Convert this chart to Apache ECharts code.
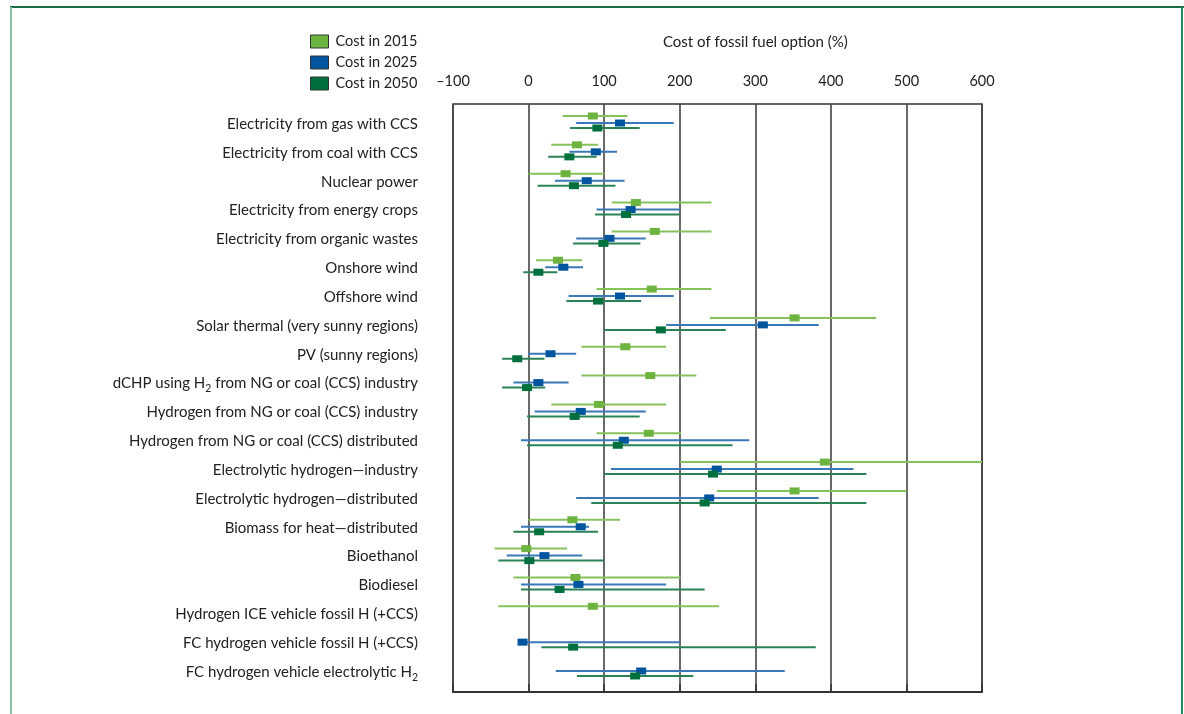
<!DOCTYPE html>
<html>
<head>
<meta charset="utf-8">
<script src="https://cdn.jsdelivr.net/npm/echarts@6/dist/echarts.min.js"></script>
<style>
html,body{margin:0;padding:0;background:#fff;}
#chart{width:1184px;height:714px;}
</style>
</head>
<body>
<div id="chart"></div>
<script>
const categories = [
  "Electricity from gas with CCS",
  "Electricity from coal with CCS",
  "Nuclear power",
  "Electricity from energy crops",
  "Electricity from organic wastes",
  "Onshore wind",
  "Offshore wind",
  "Solar thermal (very sunny regions)",
  "PV (sunny regions)",
  "dCHP using H₂ from NG or coal (CCS) industry",
  "Hydrogen from NG or coal (CCS) industry",
  "Hydrogen from NG or coal (CCS) distributed",
  "Electrolytic hydrogen—industry",
  "Electrolytic hydrogen—distributed",
  "Biomass for heat—distributed",
  "Bioethanol",
  "Biodiesel",
  "Hydrogen ICE vehicle fossil H (+CCS)",
  "FC hydrogen vehicle fossil H (+CCS)",
  "FC hydrogen vehicle electrolytic H₂"
];
const xTicks = [-100, 0, 100, 200, 300, 400, 500, 600];
const seriesNames = ["Cost in 2015", "Cost in 2025", "Cost in 2050"];

// [low, central, high] per category (% of fossil fuel option cost)
const cost2015 = [
  [45, 85, 131], [30, 64, 92], [0, 49, 100], [110, 142, 242], [110, 167, 242],
  [10, 39, 71], [90, 163, 242], [240, 352, 460], [70, 128, 182], [70, 161, 222],
  [30, 93, 182], [90, 159, 202], [200, 392, 600], [249, 352, 500], [0, 58, 121],
  [-45, -3, 51], [-20, 62, 201], [-40, 85, 252], null, null
];
const cost2025 = [
  [63, 121, 192], [54, 89, 117], [35, 77, 127], [90, 135, 200], [63, 107, 155],
  [22, 46, 72], [53, 121, 192], [182, 310, 384], [0, 29, 63], [-20, 13, 53],
  [8, 69, 155], [-10, 126, 292], [109, 249, 430], [63, 239, 384], [-10, 69, 80],
  [-29, 21, 71], [-10, 66, 182], null, [-8, -8, 200], [36, 149, 339]
];
const cost2050 = [
  [55, 91, 147], [26, 54, 90], [12, 60, 115], [88, 129, 200], [59, 99, 148],
  [-7, 13, 38], [50, 92, 149], [101, 175, 261], [-35, -15, 21], [-35, -2, 22],
  [-2, 61, 147], [-2, 118, 270], [101, 244, 447], [83, 233, 447], [-20, 14, 92],
  [-40, 1, 100], [-10, 41, 233], null, [17, 59, 380], [64, 141, 218]
];

const boxColors = ["#6db33f", "#00559e", "#00703c"];
const lineColors = ["#86c25c", "#3a78b8", "#2a8256"];
const offsets = [-8, -1, 4];

function toData(arr) {
  const out = [];
  arr.forEach((v, i) => { if (v) out.push([i, v[0], v[1], v[2]]); });
  return out;
}

function makeRender(k) {
  return function (params, api) {
    const idx = api.value(0);
    const pl = api.coord([api.value(1), idx]);
    const pm = api.coord([api.value(2), idx]);
    const ph = api.coord([api.value(3), idx]);
    const y = pm[1] + offsets[k];
    return {
      type: 'group',
      children: [
        { type: 'line', shape: { x1: pl[0], y1: y, x2: ph[0], y2: y },
          style: { stroke: lineColors[k], lineWidth: 2 } },
        { type: 'rect', shape: { x: pm[0] - 5, y: y - 3.5, width: 10, height: 7 },
          style: { fill: boxColors[k] } }
      ]
    };
  };
}

const FONT = 'Lato';
const allData = [cost2015, cost2025, cost2050];

const chart = echarts.init(document.getElementById('chart'));
chart.setOption({
  animation: false,
  backgroundColor: '#fff',
  color: boxColors,
  textStyle: { fontFamily: FONT },
  legend: {
    data: seriesNames,
    orient: 'vertical',
    left: 310, top: 34,
    padding: 0,
    itemWidth: 18, itemHeight: 13, itemGap: 6,
    icon: 'rect',
    itemStyle: { borderColor: '#333', borderWidth: 1 },
    textStyle: { fontFamily: FONT, fontSize: 14.5, color: '#222', lineHeight: 13.5, padding: [0, 0, 0, 2] }
  },
  graphic: [
    { type: 'text', left: 663, top: 35,
      style: { text: 'Cost of fossil fuel option (%)', font: '15px Lato', fill: '#222' } },
    { type: 'line', shape: { x1: 10, y1: 7, x2: 1184, y2: 7 }, style: { stroke: '#1d6c48', lineWidth: 2 } },
    { type: 'line', shape: { x1: 11, y1: 7, x2: 11, y2: 714 }, style: { stroke: '#86c3a4', lineWidth: 2 } },
    { type: 'line', shape: { x1: 1182, y1: 7, x2: 1182, y2: 714 }, style: { stroke: '#2a8a62', lineWidth: 2 } }
  ],
  grid: [
    { left: 453, width: 529, top: 104, height: 588, show: true, borderColor: '#333', borderWidth: 1.5 },
    { left: 453, width: 529, top: 109.6, height: 576.8 }
  ],
  xAxis: [
    {
      gridIndex: 0, type: 'value', position: 'top',
      min: xTicks[0], max: xTicks[xTicks.length - 1], interval: 100,
      axisLine: { show: true, lineStyle: { color: '#333', width: 2 } },
      axisTick: { show: true, inside: false, length: 8, lineStyle: { color: '#333', width: 1.5 } },
      axisLabel: { fontFamily: FONT, fontSize: 14.5, color: '#222', margin: 15,
        formatter: v => (v < 0 ? '–' + Math.abs(v) : String(v)) },
      splitLine: { show: true, lineStyle: { color: '#444', width: 1.6 } }
    },
    {
      gridIndex: 1, type: 'value',
      min: xTicks[0], max: xTicks[xTicks.length - 1], interval: 100,
      show: false
    }
  ],
  yAxis: [
    { gridIndex: 0, type: 'value', min: 0, max: 1, show: false },
    {
      gridIndex: 1, type: 'category', data: categories, inverse: true,
      axisLine: { show: false }, axisTick: { show: false }, splitLine: { show: false },
      axisLabel: {
        fontFamily: FONT, fontSize: 15, color: '#222', margin: 35, interval: 0,
        formatter: v => v.replace('H₂', 'H{sub|2}'),
        rich: {
          sub: { fontFamily: FONT, fontSize: 10.5, color: '#222', verticalAlign: 'bottom', lineHeight: 22 }
        }
      }
    }
  ],
  series: allData.map((arr, k) => ({
    name: seriesNames[k],
    type: 'custom',
    xAxisIndex: 1, yAxisIndex: 1,
    itemStyle: { color: boxColors[k] },
    renderItem: makeRender(k),
    encode: { x: [1, 2, 3], y: 0 },
    data: toData(arr)
  }))
});
</script>
</body>
</html>
